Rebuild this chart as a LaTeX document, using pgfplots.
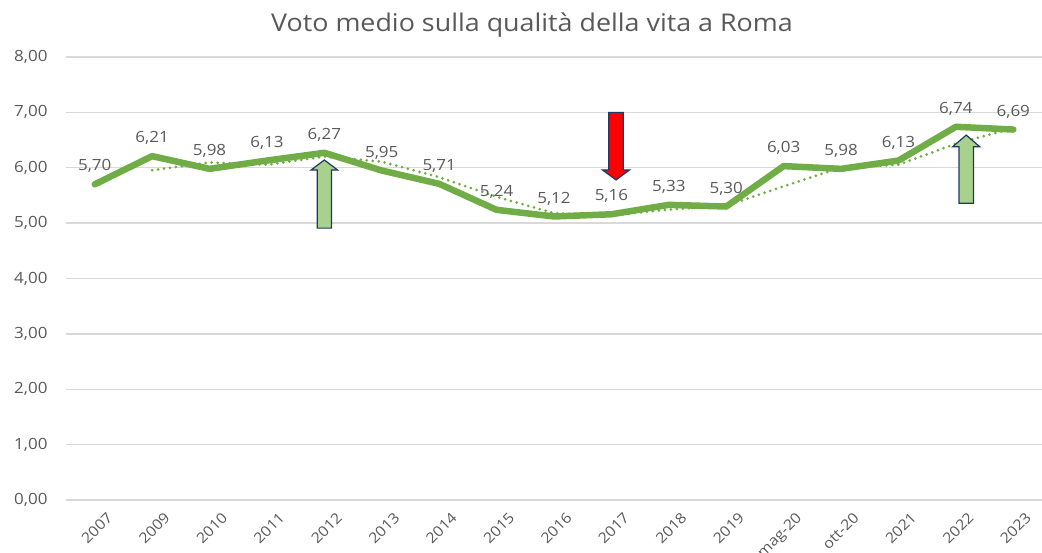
\documentclass[border=0pt]{standalone}
\usepackage{pgfplots}
\pgfplotsset{compat=1.18}
\usepackage{fontspec}
\setmainfont{Open Sans}[FakeStretch=1.1]
\definecolor{txt}{HTML}{595959}
\definecolor{lgreen}{HTML}{70AD47}
\definecolor{gridc}{HTML}{D9D9D9}
\definecolor{afill}{HTML}{A9D18E}
\definecolor{navy}{HTML}{203864}
\begin{document}
\begin{tikzpicture}
\begin{axis}[
  at={(0,0)}, anchor=south west,
  scale only axis, width=976bp, height=443bp,
  xmin=-0.5, xmax=16.5, ymin=0, ymax=8,
  axis line style={draw=none},
  major tick style={draw=none},
  ytick={0,1,...,8},
  ymajorgrids, grid style={gridc, line width=1.3bp},
  xtick={0,1,...,16},
  xticklabels={2007,2009,2010,2011,2012,2013,2014,2015,2016,2017,2018,2019,mag-20,ott-20,2021,2022,2023},
  xticklabel style={rotate=45, anchor=north east, inner sep=1pt, yshift=-15bp, xshift=1bp, font=\fontsize{14.5}{16}\selectfont, text=txt},
  yticklabel style={font=\fontsize{15.5}{17}\selectfont, text=txt, xshift=-15bp,
    /pgf/number format/.cd, fixed, fixed zerofill, precision=2, use comma},
  /pgf/number format/assume math mode=true,
  title={Voto medio sulla qualità della vita a Roma},
  title style={at={(axis description cs:0.4775,1.058)}, anchor=center, font=\fontsize{24.5}{28}\selectfont, text=txt},
  clip=false,
]
% moving average trendline (2 periods)
\addplot[lgreen, line width=3bp, line cap=round, dash pattern=on 0pt off 6bp] coordinates {
(1,5.955) (2,6.095) (3,6.055) (4,6.200) (5,6.110) (6,5.830) (7,5.475) (8,5.180)
(9,5.140) (10,5.245) (11,5.315) (12,5.665) (13,6.005) (14,6.055) (15,6.435) (16,6.715)};
% main series
\addplot[lgreen, line width=6.5bp, line join=round, line cap=round,
  nodes near coords, point meta=y,
  every node near coord/.append style={anchor=center, yshift=18bp, text=txt,
    font=\fontsize{15.5}{17}\selectfont,
    /pgf/number format/.cd, fixed, fixed zerofill, precision=2, use comma, assume math mode=true}]
coordinates {
(0,5.70) (1,6.21) (2,5.98) (3,6.13) (4,6.27) (5,5.95) (6,5.71) (7,5.24) (8,5.12)
(9,5.16) (10,5.33) (11,5.30) (12,6.03) (13,5.98) (14,6.13) (15,6.74) (16,6.69)};
% arrows
\draw[fill=afill, draw=navy, line width=1.2bp, line join=miter]
 (axis cs:4-0.125,4.91) -- (axis cs:4-0.125,5.96) -- (axis cs:4-0.23,5.96) -- (axis cs:4,6.14)
 -- (axis cs:4.23,5.96) -- (axis cs:4.125,5.96) -- (axis cs:4.125,4.91) -- cycle;
\draw[fill=red, draw=navy, line width=1.2bp, line join=miter]
 (axis cs:9.08-0.125,7.0) -- (axis cs:9.08-0.125,5.96) -- (axis cs:9.08-0.235,5.96) -- (axis cs:9.08,5.78)
 -- (axis cs:9.08+0.235,5.96) -- (axis cs:9.08+0.125,5.96) -- (axis cs:9.08+0.125,7.0) -- cycle;
\draw[fill=afill, draw=navy, line width=1.2bp, line join=miter]
 (axis cs:15.18-0.125,5.36) -- (axis cs:15.18-0.125,6.38) -- (axis cs:15.18-0.235,6.38) -- (axis cs:15.18,6.59)
 -- (axis cs:15.18+0.235,6.38) -- (axis cs:15.18+0.125,6.38) -- (axis cs:15.18+0.125,5.36) -- cycle;
\end{axis}
\pgfresetboundingbox
\useasboundingbox (-66bp,-53bp) rectangle (976bp,500bp);
\end{tikzpicture}
\end{document}
